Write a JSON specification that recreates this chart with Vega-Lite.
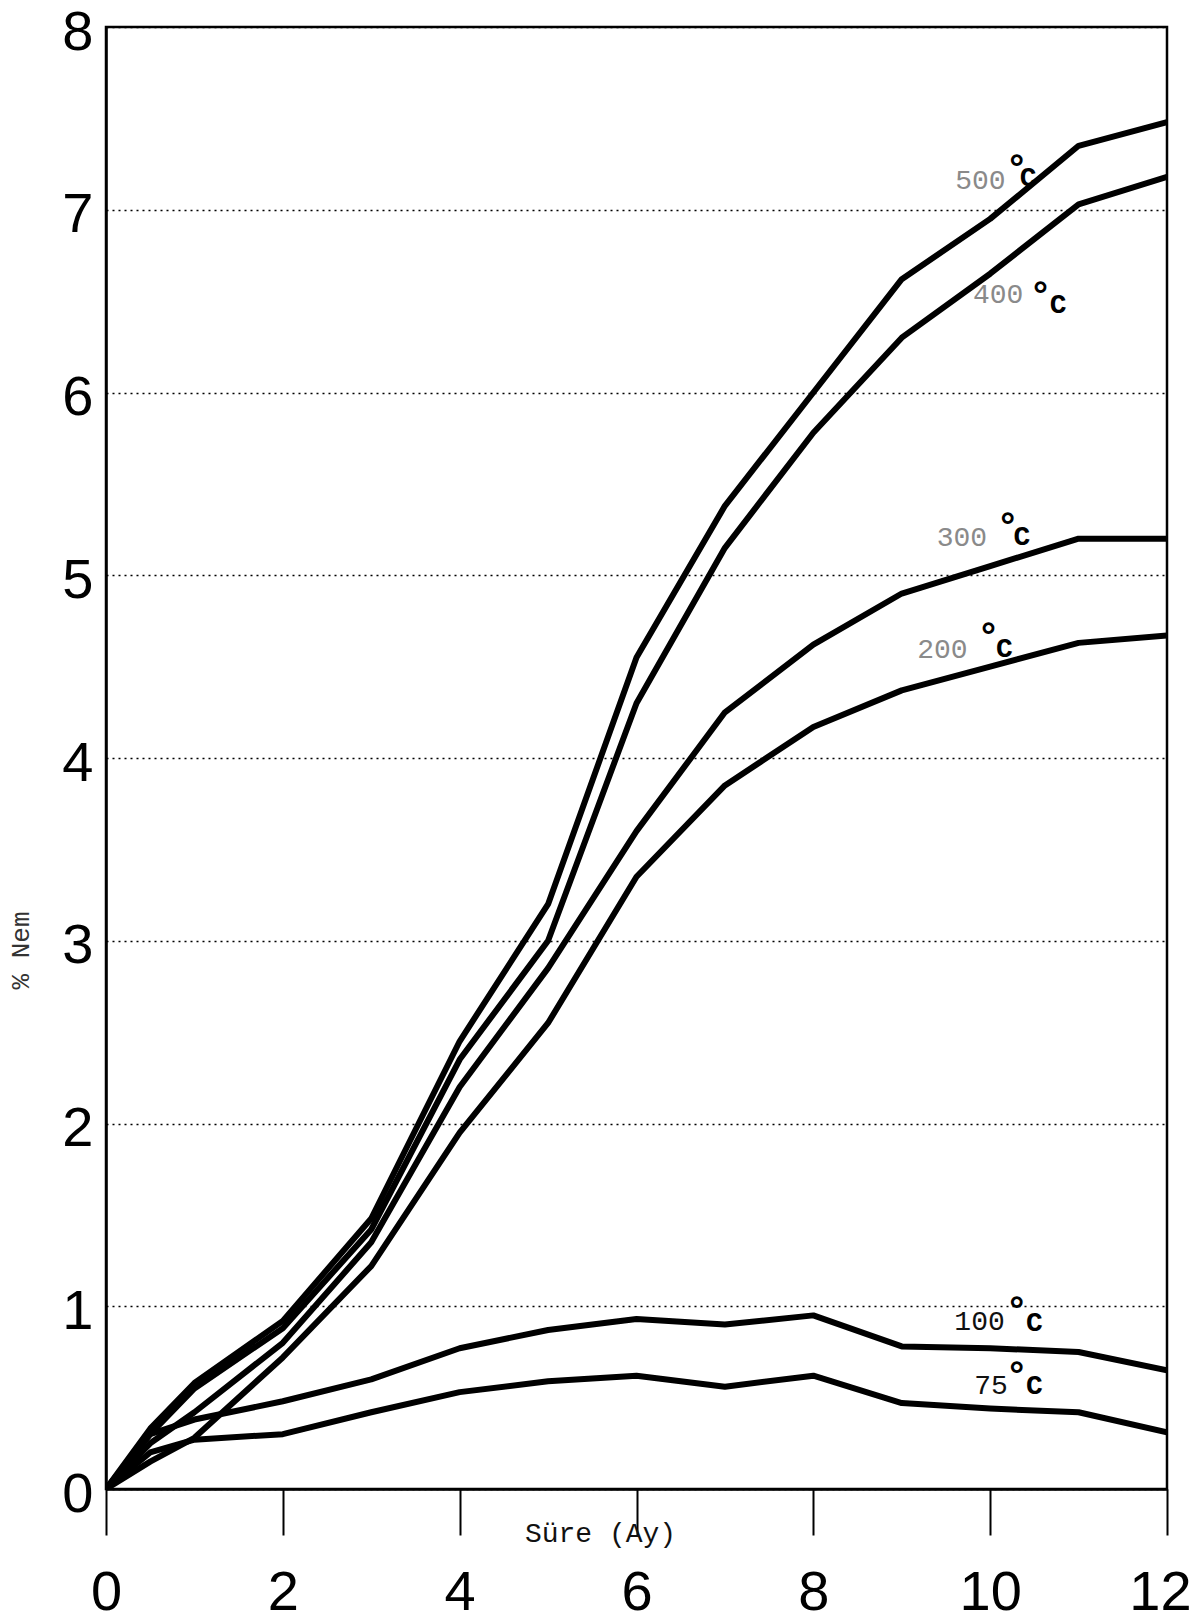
{
  "$schema": "https://vega.github.io/schema/vega-lite/v6.json",
  "width": 1061,
  "height": 1462,
  "autosize": {"type": "none"},
  "padding": {"left": 106, "top": 27, "right": 25, "bottom": 135},
  "background": "white",
  "config": {
    "view": {"stroke": "black", "strokeWidth": 2.5},
    "axis": {"domainColor": "black", "domainWidth": 2.5}
  },
  "datasets": {
    "curves": [
      {"ay": 0, "nem": 0, "seri": "500"}, {"ay": 0.5, "nem": 0.33, "seri": "500"}, {"ay": 1, "nem": 0.58, "seri": "500"}, {"ay": 2, "nem": 0.92, "seri": "500"}, {"ay": 3, "nem": 1.48, "seri": "500"}, {"ay": 4, "nem": 2.45, "seri": "500"}, {"ay": 5, "nem": 3.2, "seri": "500"}, {"ay": 6, "nem": 4.55, "seri": "500"}, {"ay": 7, "nem": 5.38, "seri": "500"}, {"ay": 8, "nem": 6.0, "seri": "500"}, {"ay": 9, "nem": 6.62, "seri": "500"}, {"ay": 10, "nem": 6.95, "seri": "500"}, {"ay": 11, "nem": 7.35, "seri": "500"}, {"ay": 12, "nem": 7.48, "seri": "500"},
      {"ay": 0, "nem": 0, "seri": "400"}, {"ay": 0.5, "nem": 0.3, "seri": "400"}, {"ay": 1, "nem": 0.55, "seri": "400"}, {"ay": 2, "nem": 0.88, "seri": "400"}, {"ay": 3, "nem": 1.42, "seri": "400"}, {"ay": 4, "nem": 2.35, "seri": "400"}, {"ay": 5, "nem": 3.0, "seri": "400"}, {"ay": 6, "nem": 4.3, "seri": "400"}, {"ay": 7, "nem": 5.15, "seri": "400"}, {"ay": 8, "nem": 5.78, "seri": "400"}, {"ay": 9, "nem": 6.3, "seri": "400"}, {"ay": 10, "nem": 6.65, "seri": "400"}, {"ay": 11, "nem": 7.03, "seri": "400"}, {"ay": 12, "nem": 7.18, "seri": "400"},
      {"ay": 0, "nem": 0, "seri": "300"}, {"ay": 0.5, "nem": 0.25, "seri": "300"}, {"ay": 1, "nem": 0.42, "seri": "300"}, {"ay": 2, "nem": 0.8, "seri": "300"}, {"ay": 3, "nem": 1.35, "seri": "300"}, {"ay": 4, "nem": 2.2, "seri": "300"}, {"ay": 5, "nem": 2.85, "seri": "300"}, {"ay": 6, "nem": 3.6, "seri": "300"}, {"ay": 7, "nem": 4.25, "seri": "300"}, {"ay": 8, "nem": 4.62, "seri": "300"}, {"ay": 9, "nem": 4.9, "seri": "300"}, {"ay": 10, "nem": 5.05, "seri": "300"}, {"ay": 11, "nem": 5.2, "seri": "300"}, {"ay": 12, "nem": 5.2, "seri": "300"},
      {"ay": 0, "nem": 0, "seri": "200"}, {"ay": 0.5, "nem": 0.15, "seri": "200"}, {"ay": 1, "nem": 0.28, "seri": "200"}, {"ay": 2, "nem": 0.72, "seri": "200"}, {"ay": 3, "nem": 1.22, "seri": "200"}, {"ay": 4, "nem": 1.95, "seri": "200"}, {"ay": 5, "nem": 2.55, "seri": "200"}, {"ay": 6, "nem": 3.35, "seri": "200"}, {"ay": 7, "nem": 3.85, "seri": "200"}, {"ay": 8, "nem": 4.17, "seri": "200"}, {"ay": 9, "nem": 4.37, "seri": "200"}, {"ay": 10, "nem": 4.5, "seri": "200"}, {"ay": 11, "nem": 4.63, "seri": "200"}, {"ay": 12, "nem": 4.67, "seri": "200"},
      {"ay": 0, "nem": 0, "seri": "100"}, {"ay": 0.5, "nem": 0.3, "seri": "100"}, {"ay": 1, "nem": 0.38, "seri": "100"}, {"ay": 2, "nem": 0.48, "seri": "100"}, {"ay": 3, "nem": 0.6, "seri": "100"}, {"ay": 4, "nem": 0.77, "seri": "100"}, {"ay": 5, "nem": 0.87, "seri": "100"}, {"ay": 6, "nem": 0.93, "seri": "100"}, {"ay": 7, "nem": 0.9, "seri": "100"}, {"ay": 8, "nem": 0.95, "seri": "100"}, {"ay": 9, "nem": 0.78, "seri": "100"}, {"ay": 10, "nem": 0.77, "seri": "100"}, {"ay": 11, "nem": 0.75, "seri": "100"}, {"ay": 12, "nem": 0.65, "seri": "100"},
      {"ay": 0, "nem": 0, "seri": "75"}, {"ay": 0.5, "nem": 0.2, "seri": "75"}, {"ay": 1, "nem": 0.27, "seri": "75"}, {"ay": 2, "nem": 0.3, "seri": "75"}, {"ay": 3, "nem": 0.42, "seri": "75"}, {"ay": 4, "nem": 0.53, "seri": "75"}, {"ay": 5, "nem": 0.59, "seri": "75"}, {"ay": 6, "nem": 0.62, "seri": "75"}, {"ay": 7, "nem": 0.56, "seri": "75"}, {"ay": 8, "nem": 0.62, "seri": "75"}, {"ay": 9, "nem": 0.47, "seri": "75"}, {"ay": 10, "nem": 0.44, "seri": "75"}, {"ay": 11, "nem": 0.42, "seri": "75"}, {"ay": 12, "nem": 0.31, "seri": "75"}
    ],
    "labels": [
      {"text": "500", "part": "num", "faded": true, "ay": 9.89, "nem": 7.157},
      {"text": "°", "part": "deg", "faded": true, "ay": 10.3, "nem": 7.256},
      {"text": "C", "part": "unit", "faded": true, "ay": 10.43, "nem": 7.174},
      {"text": "400", "part": "num", "faded": true, "ay": 10.09, "nem": 6.534},
      {"text": "°", "part": "deg", "faded": true, "ay": 10.57, "nem": 6.561},
      {"text": "C", "part": "unit", "faded": true, "ay": 10.77, "nem": 6.479},
      {"text": "300", "part": "num", "faded": true, "ay": 9.68, "nem": 5.204},
      {"text": "°", "part": "deg", "faded": true, "ay": 10.2, "nem": 5.297},
      {"text": "C", "part": "unit", "faded": true, "ay": 10.36, "nem": 5.209},
      {"text": "200", "part": "num", "faded": true, "ay": 9.46, "nem": 4.591},
      {"text": "°", "part": "deg", "faded": true, "ay": 9.98, "nem": 4.695},
      {"text": "C", "part": "unit", "faded": true, "ay": 10.16, "nem": 4.596},
      {"text": "100", "part": "num", "faded": false, "ay": 9.88, "nem": 0.914},
      {"text": "°", "part": "deg", "faded": false, "ay": 10.3, "nem": 1.007},
      {"text": "C", "part": "unit", "faded": false, "ay": 10.5, "nem": 0.908},
      {"text": "75", "part": "num", "faded": false, "ay": 10.01, "nem": 0.564},
      {"text": "°", "part": "deg", "faded": false, "ay": 10.3, "nem": 0.651},
      {"text": "C", "part": "unit", "faded": false, "ay": 10.5, "nem": 0.564}
    ]
  },
  "layer": [
    {
      "data": {"name": "curves"},
      "mark": {"type": "line", "color": "black", "strokeWidth": 6, "strokeJoin": "round", "strokeCap": "round", "clip": true},
      "encoding": {
        "x": {
          "field": "ay", "type": "quantitative",
          "scale": {"domain": [0, 12], "nice": false, "zero": true},
          "axis": {
            "values": [0, 2, 4, 6, 8, 10, 12],
            "format": "d",
            "grid": false,
            "ticks": true, "tickSize": 46, "tickColor": "black", "tickWidth": 2,
            "labelFont": "Liberation Sans",
            "labelFontSize": 56, "labelFontWeight": "normal", "labelColor": "black",
            "labelPadding": 30, "labelBaseline": "top", "labelFlush": false,
            "labelOffset": {"condition": {"test": "datum.value === 12", "value": -7}, "value": 0},
            "title": "Süre (Ay)",
            "titleFont": "Liberation Mono", "titleFontSize": 28, "titleFontWeight": "normal", "titleColor": "#111",
            "titleX": 494, "titleY": 44, "titleAlign": "center", "titleBaseline": "middle"
          }
        },
        "y": {
          "field": "nem", "type": "quantitative",
          "scale": {"domain": [0, 8], "nice": false},
          "axis": {
            "values": [0, 1, 2, 3, 4, 5, 6, 7, 8],
            "format": "d",
            "grid": true, "gridColor": "black", "gridDash": [2, 4], "gridWidth": 1.6, "gridOpacity": 1,
            "ticks": false,
            "labelFont": "Liberation Sans",
            "labelFontSize": 56, "labelFontWeight": "normal", "labelColor": "black",
            "labelPadding": 13, "labelFlush": false, "labelBaseline": "middle", "labelOffset": 5,
            "title": "% Nem",
            "titleFont": "Liberation Mono", "titleFontSize": 26, "titleFontWeight": "normal", "titleColor": "#333",
            "titleX": -86, "titleY": 923, "titleAlign": "center", "titleBaseline": "middle", "titleAngle": 270
          }
        },
        "detail": {"field": "seri"}
      }
    },
    {
      "data": {"name": "labels"},
      "transform": [{"filter": "datum.part === 'num'"}],
      "mark": {"type": "text", "font": "Liberation Mono", "fontSize": 28, "align": "center", "baseline": "middle"},
      "encoding": {
        "x": {"field": "ay", "type": "quantitative"},
        "y": {"field": "nem", "type": "quantitative"},
        "text": {"field": "text"},
        "color": {"field": "faded", "type": "nominal", "scale": {"domain": [true, false], "range": ["#8a8a8a", "#111111"]}, "legend": null}
      }
    },
    {
      "data": {"name": "labels"},
      "transform": [{"filter": "datum.part === 'deg'"}],
      "mark": {"type": "text", "font": "DejaVu Sans", "fontSize": 36, "fontWeight": "bold", "align": "center", "baseline": "middle", "color": "black", "dy": 7},
      "encoding": {
        "x": {"field": "ay", "type": "quantitative"},
        "y": {"field": "nem", "type": "quantitative"},
        "text": {"field": "text"}
      }
    },
    {
      "data": {"name": "labels"},
      "transform": [{"filter": "datum.part === 'unit'"}],
      "mark": {"type": "text", "font": "Liberation Mono", "fontSize": 28, "fontWeight": "bold", "align": "center", "baseline": "middle", "color": "black"},
      "encoding": {
        "x": {"field": "ay", "type": "quantitative"},
        "y": {"field": "nem", "type": "quantitative"},
        "text": {"field": "text"}
      }
    }
  ]
}
